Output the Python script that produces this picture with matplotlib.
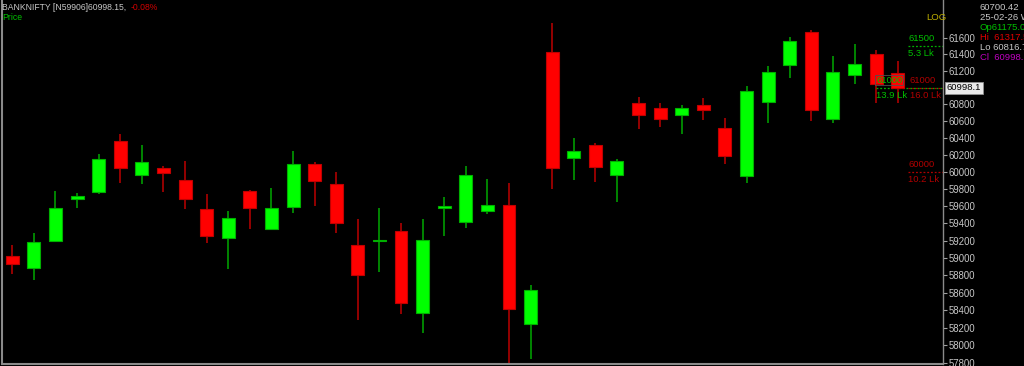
import numpy as np
import matplotlib
matplotlib.use("Agg")
import matplotlib.pyplot as plt
from matplotlib.ticker import FixedLocator, FuncFormatter, NullLocator

plt.rcParams['font.family'] = ['Liberation Sans', 'DejaVu Sans']

# daily BANKNIFTY candles
opens = [59020, 58885, 59200, 59680, 59765, 60370, 59960, 60045, 59905, 59565,
         59225, 59775, 59335, 59590, 60100, 59865, 59145, 59200, 59310, 58370,
         59575, 59420, 59545, 59620, 58240, 61425, 60170, 60320, 59970, 60820,
         60755, 60680, 60795, 60515, 59955, 60835, 61270, 61675, 60625, 61155,
         61410, 61175.05]
highs = [59150, 59285, 59780, 59755, 60215, 60450, 60320, 60075, 60125, 59745,
         59545, 59790, 59810, 60245, 60115, 60005, 59455, 59580, 59405, 59450,
         59705, 60070, 59920, 59870, 58685, 61775, 60400, 60340, 60155, 60885,
         60815, 60790, 60875, 60635, 61020, 61255, 61610, 61695, 61380, 61530,
         61450, 61317.55]
lows = [58815, 58745, 59195, 59580, 59740, 59875, 59860, 59770, 59570, 59170,
        58870, 59330, 59330, 59520, 59605, 59290, 58285, 58835, 58355, 58135,
        59255, 59350, 59515, 57770, 57840, 59805, 59905, 59885, 59650, 60510,
        60535, 60450, 60615, 60090, 59875, 60575, 61110, 60605, 60575, 61050,
        60815, 60816.75]
closes = [58930, 59180, 59585, 59720, 60155, 60050, 60120, 59990, 59690, 59255,
          59460, 59580, 59585, 60100, 59900, 59410, 58800, 59205, 58475, 59210,
          59600, 59965, 59620, 58415, 58630, 60050, 60250, 60065, 60130, 60675,
          60625, 60755, 60740, 60190, 60965, 61190, 61565, 60740, 61185, 61280,
          61050, 60998.15]

# 61000 sits under the last-price box, so it is left out
y_ticks = [v for v in range(57800, 61601, 200) if v != 61000]

# volume-at-price style markers at the right edge
levels = [61500, 61000, 61000, 60000]
level_vol = ["5.3 Lk", "13.9 Lk", "16.0 Lk", "10.2 Lk"]

W, H = 1024, 366
fig = plt.figure(figsize=(W / 100, H / 100), dpi=100, facecolor='black')
ax = fig.add_axes([2 / W, 2 / H, 941 / W, 364 / H], facecolor='black')

x = np.arange(len(opens))
o = np.array(opens)
c = np.array(closes)
up = c >= o
body_col = np.where(up, '#00ff00', '#ff0000')
edge_col = np.where(up, '#00b000', '#c00000')
wick_col = np.where(up, '#009000', '#a00000')

ax.vlines(x, lows, highs, colors=wick_col, linewidth=1.3, zorder=2)
ax.bar(x, np.maximum(np.abs(c - o), 4), bottom=np.minimum(o, c), width=0.6,
       color=body_col, edgecolor=edge_col, linewidth=0.8, zorder=3)

ax.set_yscale('log')
ax.set_ylim(57786, 62057)
ax.set_xlim(-0.477, 43.098)

ax.yaxis.set_major_locator(FixedLocator(y_ticks))
ax.yaxis.set_minor_locator(NullLocator())
ax.yaxis.set_major_formatter(FuncFormatter(lambda v, p: f"{v:.0f}"))
ax.yaxis.tick_right()
ax.tick_params(axis='y', colors='#a0a0a0', labelcolor='#c8c8c8', length=3,
               width=0.8, labelsize=6.9, pad=1)
ax.set_xticks([])

ax.spines['top'].set_visible(False)
for side in ['left', 'bottom', 'right']:
    ax.spines[side].set_color('#8a8a8a')
    ax.spines[side].set_linewidth(1.5)
ax.spines['right'].set_linewidth(1.0)

# dotted level lines with labels
dots = (0, (1.5, 1.5))
ax.hlines(levels[0], 41.48, 43.1, colors='#00b000', linestyles=dots, lw=0.9)
ax.hlines(levels[1], 40.0, 43.1, colors='#00b000', linestyles=dots, lw=0.9)
ax.hlines(levels[2], 41.5, 43.1, colors='#b00000', linestyles=dots, lw=0.9)
ax.hlines(levels[3], 41.48, 43.1, colors='#b00000', linestyles=dots, lw=0.9)
fs = 6.8
ax.text(41.48, levels[0] * 1.0006, str(levels[0]), color='#00c000', fontsize=fs, va='bottom')
ax.text(41.48, levels[0] * 0.9994, level_vol[0], color='#00c000', fontsize=fs, va='top')
ax.text(40.0, levels[1] * 1.0006, str(levels[1]), color='#00c000', fontsize=fs, va='bottom',
        bbox=dict(facecolor='none', edgecolor='#505050', lw=0.6, pad=0.6))
ax.text(40.0, levels[1] * 0.9994, level_vol[1], color='#00c000', fontsize=fs, va='top')
ax.text(41.55, levels[2] * 1.0006, str(levels[2]), color='#b00000', fontsize=fs, va='bottom')
ax.text(41.55, levels[2] * 0.9994, level_vol[2], color='#b00000', fontsize=fs, va='top')
ax.text(41.48, levels[3] * 1.0006, str(levels[3]), color='#b00000', fontsize=fs, va='bottom')
ax.text(41.48, levels[3] * 0.9994, level_vol[3], color='#b00000', fontsize=fs, va='top')

# last price box on the axis (truncated to one decimal, like the terminal)
last_txt = f"{int(closes[-1] * 10) / 10:.1f}"
ax.text(1.004, closes[-1], last_txt, transform=ax.get_yaxis_transform(),
        color='black', fontsize=6.8, va='center', ha='left', zorder=10,
        bbox=dict(facecolor='#e8e8e8', edgecolor='#909090', lw=0.6, pad=1.2))


def ftext(px, py, s, col, size=6.8):
    return fig.text(px / W, 1 - py / H, s, color=col, fontsize=size, va='center', ha='left')


head = ftext(2, 7, "BANKNIFTY [N59906]60998.15,", '#c8c8c8', 6.2)
plt.annotate("-0.08%", xy=(1, 0.5), xycoords=head, xytext=(3, 0),
             textcoords='offset points', va='center', ha='left',
             color='#d00000', fontsize=6.2)
ftext(2, 17.5, "Price", '#00c000', 6.2)
ftext(926, 17.5, "LOG", '#c0b000')

# info panel (runs off the right edge, as in the terminal)
ftext(980, 7.5, "60700.42", '#c8c8c8')
ftext(980, 17.5, "25-02-26 We", '#c8c8c8')
ftext(980, 27.5, f"Op{opens[-1]:.2f}", '#00c000')
ftext(980, 37.5, f"Hi  {highs[-1]:.2f}", '#e00000')
ftext(980, 47.5, f"Lo {lows[-1]:.2f}", '#c8c8c8')
ftext(980, 57.5, f"Cl  {closes[-1]:.2f}", '#c000c0')

fig.savefig("out.png", dpi=100, facecolor='black')
